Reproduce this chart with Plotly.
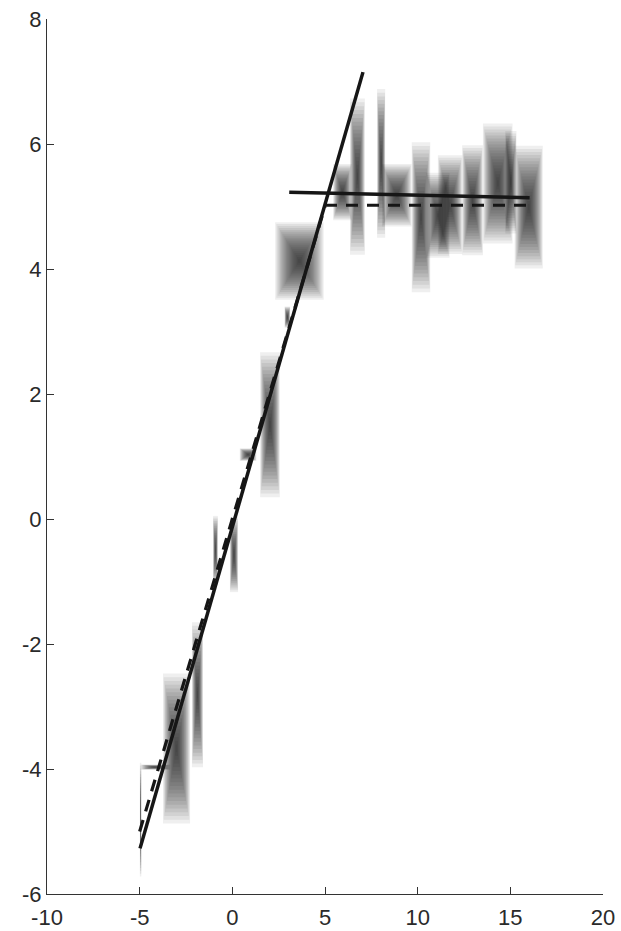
import plotly.graph_objects as go

# ---- data ----
# gradient boxes: centre x, centre y, half width, half height
box_cx = [-4.95, -4.15, -3.01, -1.88, -0.91, 0.09, 0.85, 2.03, 2.97, 3.62,
          5.94, 6.75, 8.03, 8.87, 10.18, 11.09, 11.75, 12.96, 14.32, 15.03, 15.99]
box_cy = [-4.81, -3.97, -3.67, -2.81, -0.50, -0.57, 1.03, 1.51, 3.23, 4.13,
          5.23, 5.48, 5.69, 5.18, 4.83, 4.86, 5.03, 5.10, 5.37, 5.39, 4.99]
box_hw = [0.04, 0.8, 0.73, 0.3, 0.13, 0.22, 0.45, 0.53, 0.15, 1.31,
          0.5, 0.4, 0.22, 0.8, 0.5, 0.63, 0.66, 0.56, 0.8, 0.3, 0.76]
box_hh = [0.91, 0.04, 1.2, 1.16, 0.55, 0.6, 0.1, 1.16, 0.17, 0.62,
          0.45, 1.25, 1.19, 0.5, 1.2, 0.68, 0.79, 0.88, 0.96, 0.82, 0.98]

# fitted lines
solid_rise_x = [-4.98, 7.05]
solid_rise_y = [-5.27, 7.15]
solid_flat_x = [3.07, 16.04]
solid_flat_y = [5.23, 5.14]
dash_rise_x = [-5.0, 5.0]
dash_rise_y = [-5.0, 5.0]
dash_flat_x = [5.0, 15.85]
dash_flat_y = [5.02, 5.02]

x_ticks = [-10, -5, 0, 5, 10, 15, 20]
y_ticks = [-6, -4, -2, 0, 2, 4, 6, 8]

# ---- figure ----
fig = go.Figure()

N_LEVELS = 20
shapes = []
for cx, cy, hw, hh in zip(box_cx, box_cy, box_hw, box_hh):
    for k in range(N_LEVELS):
        s = 1.0 - k / N_LEVELS
        shapes.append(dict(
            type="rect", xref="x", yref="y", layer="below",
            x0=cx - hw * s, x1=cx + hw * s,
            y0=cy - hh * s, y1=cy + hh * s,
            line=dict(width=0),
            fillcolor="rgba(20,20,20,0.066)",
        ))

line_col = "#161616"
fig.add_trace(go.Scatter(x=solid_rise_x, y=solid_rise_y, mode="lines",
                         line=dict(color=line_col, width=3.5)))
fig.add_trace(go.Scatter(x=dash_rise_x, y=dash_rise_y, mode="lines",
                         line=dict(color=line_col, width=3.2, dash="12px,9px")))
fig.add_trace(go.Scatter(x=solid_flat_x, y=solid_flat_y, mode="lines",
                         line=dict(color=line_col, width=3.5)))
fig.add_trace(go.Scatter(x=dash_flat_x, y=dash_flat_y, mode="lines",
                         line=dict(color=line_col, width=3.2, dash="12px,9px")))

font = dict(family="Liberation Sans, Arial, sans-serif", size=22, color="#2a2a2a")
fig.update_layout(
    width=621, height=931,
    margin=dict(l=47, r=18, t=19, b=37),
    paper_bgcolor="white", plot_bgcolor="white",
    showlegend=False,
    shapes=shapes,
    font=font,
)
fig.update_xaxes(range=[-10, 20], tickvals=x_ticks,
                 ticktext=[str(v) for v in x_ticks],
                 showgrid=False, zeroline=False, showline=True,
                 linecolor="#333", linewidth=1.3, ticks="inside",
                 ticklen=7, tickcolor="#333", tickwidth=1.3, tickfont=font,
                 ticklabelstandoff=3, automargin=False)
fig.update_yaxes(range=[-6, 8], tickvals=y_ticks,
                 ticktext=[str(v) for v in y_ticks],
                 showgrid=False, zeroline=False, showline=True,
                 linecolor="#333", linewidth=1.3, ticks="inside",
                 ticklen=7, tickcolor="#333", tickwidth=1.3, tickfont=font,
                 automargin=False)

fig.write_html("out.html",
               config={"displayModeBar": False},
               post_script="document.body.style.margin='0';"
                           "document.body.style.padding='0';")
